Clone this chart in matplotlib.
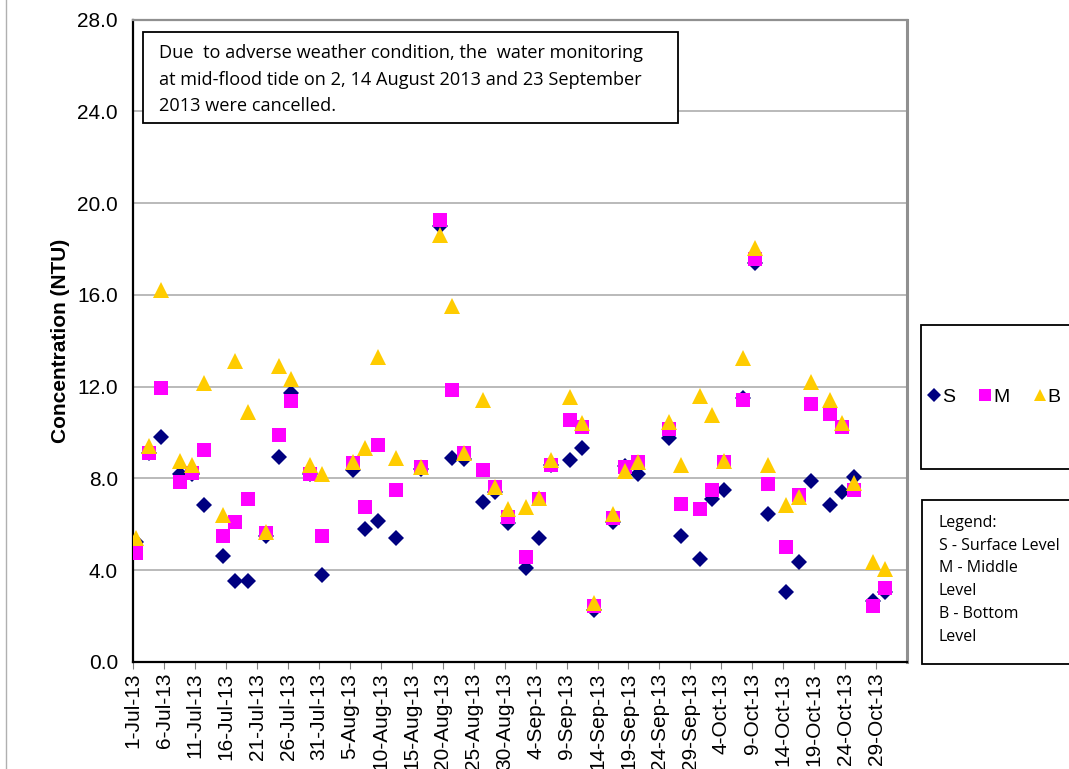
import datetime as dt

import matplotlib
matplotlib.use("Agg")
import matplotlib.pyplot as plt
import matplotlib.dates as mdates
from matplotlib.lines import Line2D

# sampling dates (2, 14 Aug and 23 Sep cancelled)
dates = ["2013-07-01", "2013-07-03", "2013-07-05", "2013-07-08", "2013-07-10",
         "2013-07-12", "2013-07-15", "2013-07-17", "2013-07-19", "2013-07-22",
         "2013-07-24", "2013-07-26", "2013-07-29", "2013-07-31", "2013-08-05",
         "2013-08-07", "2013-08-09", "2013-08-12", "2013-08-16", "2013-08-19",
         "2013-08-21", "2013-08-23", "2013-08-26", "2013-08-28", "2013-08-30",
         "2013-09-02", "2013-09-04", "2013-09-06", "2013-09-09", "2013-09-11",
         "2013-09-13", "2013-09-16", "2013-09-18", "2013-09-20", "2013-09-25",
         "2013-09-27", "2013-09-30", "2013-10-02", "2013-10-04", "2013-10-07",
         "2013-10-09", "2013-10-11", "2013-10-14", "2013-10-16", "2013-10-18",
         "2013-10-21", "2013-10-23", "2013-10-25", "2013-10-28", "2013-10-30"]

s_level = [5.2, 9.1, 9.8, 8.2, 8.2, 6.85, 4.6, 3.5, 3.5, 5.5,
           8.95, 11.7, 8.2, 3.8, 8.35, 5.8, 6.15, 5.4, 8.4, 19.0,
           8.9, 8.85, 6.95, 7.4, 6.05, 4.1, 5.4, 8.6, 8.8, 9.3,
           2.25, 6.1, 8.55, 8.2, 9.75, 5.5, 4.5, 7.1, 7.5, 11.5,
           17.4, 6.45, 3.05, 4.35, 7.9, 6.85, 7.4, 8.05, 2.65, 3.05]
m_level = [4.75, 9.1, 11.95, 7.85, 8.25, 9.25, 5.5, 6.1, 7.1, 5.6,
           9.9, 11.35, 8.2, 5.5, 8.65, 6.75, 9.45, 7.5, 8.5, 19.25,
           11.85, 9.1, 8.35, 7.6, 6.3, 4.55, 7.1, 8.6, 10.55, 10.25,
           2.45, 6.25, 8.5, 8.7, 10.15, 6.9, 6.65, 7.5, 8.7, 11.4,
           17.55, 7.75, 5.0, 7.25, 11.25, 10.8, 10.25, 7.5, 2.45, 3.2]
b_level = [5.4, 9.4, 16.2, 8.75, 8.6, 12.15, 6.4, 13.1, 10.9, 5.65,
           12.9, 12.35, 8.6, 8.2, 8.7, 9.3, 13.3, 8.9, 8.5, 18.6,
           15.5, 9.1, 11.4, 7.6, 6.65, 6.75, 7.15, 8.8, 11.55, 10.4,
           2.55, 6.45, 8.3, 8.7, 10.45, 8.6, 11.6, 10.75, 8.75, 13.25,
           18.05, 8.6, 6.85, 7.2, 12.2, 11.4, 10.4, 7.8, 4.35, 4.05]

y_ticks = [0, 4, 8, 12, 16, 20, 24, 28]
note = ("Due  to adverse weather condition, the  water monitoring\n"
        "at mid-flood tide on 2, 14 August 2013 and 23 September\n"
        "2013 were cancelled.")
legend_note = "Legend:\nS - Surface Level\nM - Middle\nLevel\nB - Bottom\nLevel"

W, H = 1069, 769
start = dt.date(2013, 7, 1)
end = dt.date(2013, 11, 3)
days = [dt.date.fromisoformat(d) for d in dates]
# Excel date axis: points sit in the middle of their day
xs = [mdates.date2num(d) + 0.5 for d in days]

fig = plt.figure(figsize=(W / 100, H / 100), dpi=100)
ax = fig.add_axes([0.1247, 0.1395, 0.7238, 0.8349])

ax.grid(axis="y", color="#b4b4b4", linewidth=1.3, zorder=0)
ax.plot(xs, s_level, linestyle="none", marker="D", ms=8.5, color="#000080",
        markeredgewidth=0, zorder=3)
ax.plot(xs, m_level, linestyle="none", marker="s", ms=9.5, color="#ff00ff",
        markeredgewidth=0, zorder=4)
ax.plot(xs, b_level, linestyle="none", marker="^", ms=11, color="#ffcc00",
        markeredgewidth=0, zorder=5)

ax.set_ylim(0, 28)
ax.set_yticks(y_ticks)
ax.set_yticklabels([f"{v:.1f}" for v in y_ticks], fontsize=15,
                   family="Liberation Sans")
ax.tick_params(axis="y", length=0, pad=11)

ax.set_xlim(mdates.date2num(start), mdates.date2num(end))
tick_days = [start + dt.timedelta(days=5 * k) for k in range(25)]
ax.set_xticks([mdates.date2num(d) for d in tick_days])
ax.set_xticklabels([f"{d.day}-{d.strftime('%b-%y')}" for d in tick_days],
                   rotation=90, fontsize=15, family="Liberation Sans")
ax.tick_params(axis="x", length=5, color="#808080", pad=3)

ax.spines["left"].set_color("black")
ax.spines["left"].set_linewidth(1.6)
ax.spines["bottom"].set_color("black")
ax.spines["bottom"].set_linewidth(1.6)
ax.spines["top"].set_color("#909090")
ax.spines["top"].set_linewidth(1.6)
ax.spines["right"].set_color("#909090")
ax.spines["right"].set_linewidth(2.2)

ax.set_ylabel("Concentration (NTU)", fontsize=15, fontweight="bold",
              family="Liberation Sans", labelpad=5)

# note box
nbox = plt.Rectangle((143 / W, 1 - 123 / H), 535 / W, 91 / H,
                     transform=fig.transFigure, facecolor="white",
                     edgecolor="black", linewidth=1.3, zorder=6)
fig.add_artist(nbox)
fig.text(159 / W, 1 - 44 / H, note, fontsize=13.1, family="Open Sans",
         va="top", ha="left", linespacing=1.62, zorder=7)

# legend box with markers
lbox = plt.Rectangle((921 / W, 1 - 469 / H), 160 / W, 144 / H,
                     transform=fig.transFigure, facecolor="white",
                     edgecolor="black", linewidth=1.3)
fig.add_artist(lbox)
handles = [Line2D([], [], linestyle="none", marker="D", ms=7, color="#000080",
                  markeredgewidth=0),
           Line2D([], [], linestyle="none", marker="s", ms=8, color="#ff00ff",
                  markeredgewidth=0),
           Line2D([], [], linestyle="none", marker="^", ms=9, color="#ffcc00",
                  markeredgewidth=0)]
fig.legend(handles, ["S", "M", "B"], loc="center left",
           bbox_to_anchor=(916 / W, 1 - 397 / H), ncol=3, frameon=False,
           handlelength=0.5, handletextpad=0.15, columnspacing=1.3,
           borderpad=0.2, prop={"family": "Liberation Sans", "size": 14})

# text legend box
tbox = plt.Rectangle((922 / W, 1 - 664 / H), 160 / W, 164 / H,
                     transform=fig.transFigure, facecolor="white",
                     edgecolor="black", linewidth=1.3)
fig.add_artist(tbox)
fig.text(939 / W, 1 - 515 / H, legend_note, fontsize=11.5,
         family="Open Sans", va="top", ha="left", linespacing=1.56)

# outer chart border
fig.add_artist(Line2D([6 / W, 6 / W], [0, 1], transform=fig.transFigure,
                      color="#b0b0b0", linewidth=1))

fig.savefig("out.png", dpi=100)
